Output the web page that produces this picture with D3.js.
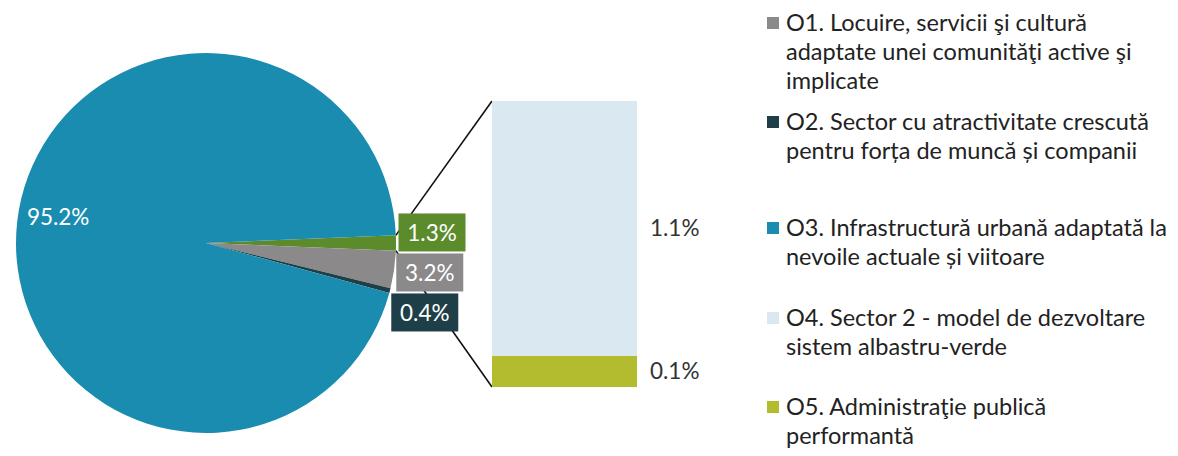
<!DOCTYPE html>
<html>
<head>
<meta charset="utf-8">
<script src="https://cdn.jsdelivr.net/npm/d3@7"></script>
<style>
  html, body { margin: 0; padding: 0; background: #ffffff; }
  svg { display: block; }
  text { font-family: Lato, "Open Sans", sans-serif; }
</style>
</head>
<body>
<svg id="chart" width="1178" height="456"></svg>
<script>
// ---------- data ----------
const categories = ["O1", "O2", "O3", "O4", "O5"];
const legendLabels = [
  ["O1. Locuire, servicii şi cultură", "adaptate unei comunităţi active şi", "implicate"],
  ["O2. Sector cu atractivitate crescută", "pentru forța de muncă și companii"],
  ["O3. Infrastructură urbană adaptată la", "nevoile actuale și viitoare"],
  ["O4. Sector 2 - model de dezvoltare", "sistem albastru-verde"],
  ["O5. Administraţie publică", "performantă"]
];
const shares = [3.2, 0.4, 95.2, 1.14, 0.14];      // percent
const inSecondary = [false, false, false, true, true];
const colors = ["#8b898a", "#1e3f48", "#1a8cb0", "#dae8f1", "#b3bc2e"];
const otherColor = "#5b8b2b";

// ---------- layout ----------
const W = 1178, H = 456;
const cx = 206, cy = 243, R = 190;
const bar = { x0: 492, x1: 637, top: 101, bottom: 387 };
const legendX = 767, legendTextX = 786, legendLineH = 29;
const legendEntryY = [23, 122, 228, 318, 407];
const labelFont = 22.5, legendFont = 23.5;
const fmt = v => d3.format(".1f")(v) + "%";

const svg = d3.select("#chart");

// pie data: "other" slice first (sits on the right), then O1, O2, O3
const otherTotal = d3.sum(shares.filter((v, i) => inSecondary[i]));
const pieItems = [{ key: "other", value: otherTotal, color: otherColor }]
  .concat(categories.map((c, i) => ({ key: c, value: shares[i], color: colors[i], idx: i }))
    .filter(d => !inSecondary[d.idx]));

const otherAngle = otherTotal / d3.sum(pieItems, d => d.value) * 2 * Math.PI;
const start = Math.PI / 2 - otherAngle / 2;
const pie = d3.pie().sort(null).value(d => d.value).startAngle(start).endAngle(start + 2 * Math.PI);
const arcs = pie(pieItems);
const arc = d3.arc().innerRadius(0).outerRadius(R);

// connector points: edges of the "other" slice on the circumference
const otherArc = arcs[0];
const pt = a => [cx + R * Math.sin(a), cy - R * Math.cos(a)];
const pTop = pt(otherArc.startAngle), pBot = pt(otherArc.endAngle);

// secondary bar scale
const secItems = categories.map((c, i) => ({ key: c, value: shares[i], color: colors[i], idx: i }))
  .filter(d => inSecondary[d.idx]);
const y = d3.scaleLinear().domain([0, otherTotal]).range([bar.bottom, bar.top]);

// connector lines
const gLines = svg.append("g");
gLines.append("line").attr("x1", pTop[0]).attr("y1", pTop[1]).attr("x2", bar.x0).attr("y2", bar.top)
  .attr("stroke", "#111").attr("stroke-width", 1.6);
gLines.append("line").attr("x1", pBot[0]).attr("y1", pBot[1]).attr("x2", bar.x0).attr("y2", bar.bottom)
  .attr("stroke", "#111").attr("stroke-width", 1.6);

// pie
const gPie = svg.append("g").attr("transform", `translate(${cx},${cy})`);
gPie.selectAll("path").data(arcs).join("path")
  .attr("d", arc).attr("fill", d => d.data.color);

// stacked secondary bar (O5 at bottom, O4 above)
let acc = 0;
const stacked = secItems.slice().reverse().map(d => { const s = { ...d, y0: acc, y1: acc + d.value }; acc += d.value; return s; });
svg.append("g").selectAll("rect").data(stacked).join("rect")
  .attr("x", bar.x0).attr("width", bar.x1 - bar.x0)
  .attr("y", d => y(d.y1)).attr("height", d => y(d.y0) - y(d.y1))
  .attr("fill", d => d.color);
svg.append("g").selectAll("text").data(stacked).join("text")
  .attr("x", bar.x1 + 13).attr("y", d => y((d.y0 + d.y1) / 2))
  .attr("dy", "0.35em").attr("font-size", labelFont).attr("fill", "#333")
  .text(d => fmt(d.value));

// pie label for the large slice
const big = arcs.find(d => d.data.key === "O3");
const bigAng = big.startAngle + 0.51 * (big.endAngle - big.startAngle);
svg.append("text")
  .attr("x", cx + 0.79 * R * Math.sin(bigAng)).attr("y", cy - 0.79 * R * Math.cos(bigAng))
  .attr("text-anchor", "middle").attr("dy", "0.35em")
  .attr("font-size", labelFont).attr("fill", "#fff").text(fmt(big.data.value));

// outside-end boxed labels for the small slices, de-overlapped vertically
const boxW = 67, boxH = 38, boxGap = 2, labR = R + 36;
const small = arcs.filter(d => d.data.key !== "O3").map(d => {
  const a = (d.startAngle + d.endAngle) / 2;
  return { d, x: cx + labR * Math.sin(a), y: cy - labR * Math.cos(a) };
}).sort((a, b) => a.y - b.y);
for (let it = 0; it < 300; it++) {
  for (let i = 1; i < small.length; i++) {
    const ov = small[i - 1].y + boxH + boxGap - small[i].y;
    if (ov > 0) { small[i - 1].y -= ov / 2; small[i].y += ov / 2; }
  }
}
const gLab = svg.append("g");
small.forEach(s => {
  gLab.append("rect").attr("x", s.x - boxW / 2).attr("y", s.y - boxH / 2)
    .attr("width", boxW).attr("height", boxH).attr("fill", s.d.data.color);
  gLab.append("text").attr("x", s.x).attr("y", s.y).attr("dy", "0.36em")
    .attr("text-anchor", "middle").attr("font-size", labelFont).attr("fill", "#fff")
    .text(fmt(s.d.data.value));
});

// legend
const gLeg = svg.append("g");
categories.forEach((c, i) => {
  const y0 = legendEntryY[i];
  gLeg.append("rect").attr("x", legendX).attr("y", y0 - 6).attr("width", 12).attr("height", 12)
    .attr("fill", colors[i]);
  legendLabels[i].forEach((line, j) => {
    gLeg.append("text").attr("x", legendTextX).attr("y", y0 + j * legendLineH)
      .attr("dy", "0.35em").attr("font-size", legendFont).attr("fill", "#222").text(line);
  });
});
</script>
</body>
</html>
